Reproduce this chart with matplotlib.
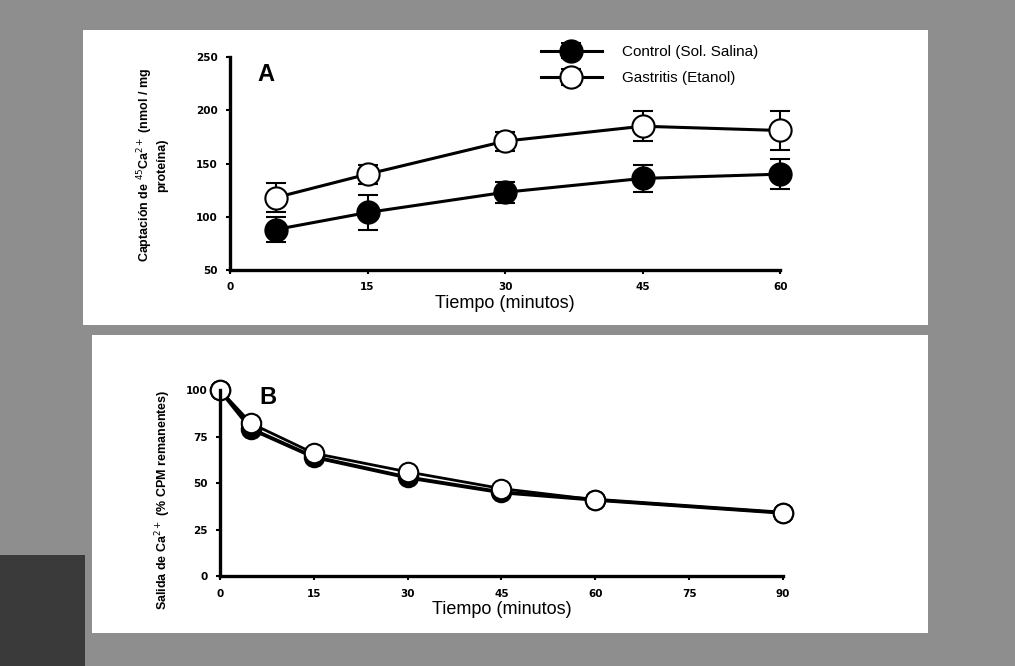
import matplotlib.pyplot as plt
from matplotlib.patches import Rectangle
import numpy as np

# Panel A: uptake
t_a = [5, 15, 30, 45, 60]
control_a = [88, 104, 123, 136, 140]
control_a_err = [12, 16, 10, 13, 14]
gastritis_a = [118, 140, 171, 185, 181]
gastritis_a_err = [14, 9, 9, 14, 18]

# Panel B: efflux
t_b = [0, 5, 15, 30, 45, 60, 90]
control_b = [100, 79, 64, 53, 45, 41, 34]
gastritis_b = [100, 82, 66, 56, 47, 41, 34]

fig = plt.figure(figsize=(10.15, 6.66), dpi=100)
fig.patch.set_facecolor('#8e8e8e')

# white paper panels (drawn below the axes)
W, H = 1015.0, 666.0
def px_rect(x0, y0, x1, y1, color):
    fig.patches.append(Rectangle((x0 / W, 1 - y1 / H), (x1 - x0) / W, (y1 - y0) / H,
                                 transform=fig.transFigure, facecolor=color,
                                 edgecolor='none', zorder=-10))
px_rect(0, 555, 85, 666, '#3a3a3a')
px_rect(83, 30, 928, 325, 'white')
px_rect(92, 335, 928, 633, 'white')

def style_axes(ax):
    ax.set_facecolor('none')
    for s in ['top', 'right']:
        ax.spines[s].set_visible(False)
    for s in ['left', 'bottom']:
        ax.spines[s].set_linewidth(2.4)
    ax.tick_params(direction='out', length=3, width=1.5, pad=6)
    for lab in ax.get_xticklabels() + ax.get_yticklabels():
        lab.set_fontsize(7.5)
        lab.set_fontweight('bold')

# ---- A ----
axA = fig.add_axes([0.2266, 0.5946, 0.542, 0.3198])
axA.errorbar(t_a, control_a, yerr=control_a_err, color='black', lw=2.2,
             marker='o', ms=16, mfc='black', mec='black', mew=1.5,
             capsize=7, elinewidth=1.5, capthick=1.5, clip_on=False,
             label='Control (Sol. Salina)')
axA.errorbar(t_a, gastritis_a, yerr=gastritis_a_err, color='black', lw=2.2,
             marker='o', ms=16, mfc='white', mec='black', mew=1.5,
             capsize=7, elinewidth=1.5, capthick=1.5, clip_on=False,
             label='Gastritis (Etanol)')
axA.set_xlim(0, 60)
axA.set_ylim(50, 250)
axA.set_xticks([0, 15, 30, 45, 60])
axA.set_yticks([50, 100, 150, 200, 250])
style_axes(axA)
axA.set_xlabel('Tiempo (minutos)', fontsize=13, family='Liberation Sans', labelpad=2)
axA.text(0.05, 0.97, 'A', transform=axA.transAxes, fontsize=17, fontweight='bold',
         family='Liberation Sans', va='top')
axA.legend(loc='upper left', bbox_to_anchor=(0.54, 1.12), frameon=False,
           handlelength=4.0, handletextpad=1.3, labelspacing=0.8,
           prop={'family': 'Liberation Sans', 'size': 11})
fig.text(152 / W, 1 - 165 / H, 'Captación de $^{45}$Ca$^{2+}$ (nmol / mg\nproteína)',
         rotation=90, ha='center', va='center', fontsize=9, fontweight='bold',
         family='Liberation Sans', linespacing=1.1)

# ---- B ----
axB = fig.add_axes([0.2167, 0.1351, 0.5547, 0.2793])
axB.plot(t_b, control_b, color='black', lw=2.8, marker='o', ms=14,
         mfc='black', mec='black', mew=1.5, clip_on=False)
axB.plot(t_b, gastritis_b, color='black', lw=2.0, marker='o', ms=14,
         mfc='white', mec='black', mew=1.5, clip_on=False)
axB.set_xlim(0, 90)
axB.set_ylim(0, 100)
axB.set_xticks([0, 15, 30, 45, 60, 75, 90])
axB.set_yticks([0, 25, 50, 75, 100])
style_axes(axB)
axB.set_xlabel('Tiempo (minutos)', fontsize=13, family='Liberation Sans', labelpad=2)
axB.text(0.07, 1.02, 'B', transform=axB.transAxes, fontsize=17, fontweight='bold',
         family='Liberation Sans', va='top')
fig.text(163 / W, 1 - 500 / H, 'Salida de Ca$^{2+}$ (% CPM remanentes)',
         rotation=90, ha='center', va='center', fontsize=9, fontweight='bold',
         family='Liberation Sans')

fig.savefig('out.png', dpi=100, facecolor=fig.get_facecolor())
